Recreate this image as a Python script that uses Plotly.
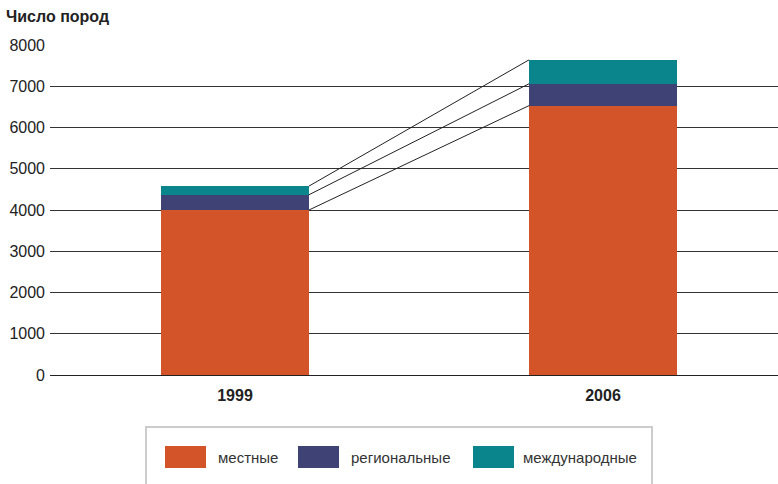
import plotly.graph_objects as go

years = ["1999", "2006"]
series_names = ["местные", "региональные", "международные"]
local_vals = [4000, 6530]
regional_vals = [370, 530]
intl_vals = [210, 580]
colors = ["#d35429", "#3f4275", "#0b858c"]
y_ticks = [0, 1000, 2000, 3000, 4000, 5000, 6000, 7000, 8000]
title_text = "Число пород"

FONT = "Liberation Sans, Arial, sans-serif"
bar_w = 0.402
xs = list(range(len(years)))

fig = go.Figure()
series = [local_vals, regional_vals, intl_vals]
for name, vals, col in zip(series_names, series, colors):
    fig.add_trace(go.Bar(x=xs, y=vals, name=name, marker=dict(color=col, line=dict(width=0)),
                         width=bar_w, showlegend=False, hoverinfo="y+name"))

# connecting lines between cumulative tops
cum = [0, 0]
for vals in series:
    cum = [c + v for c, v in zip(cum, vals)]
    fig.add_trace(go.Scatter(x=[xs[0] + bar_w / 2, xs[1] - bar_w / 2], y=cum, mode="lines",
                             line=dict(color="#222222", width=1), showlegend=False, hoverinfo="skip"))

fig.update_layout(
    barmode="stack",
    width=778, height=484,
    margin=dict(l=50, r=0, t=45, b=109),
    paper_bgcolor="white", plot_bgcolor="white",
    font=dict(family=FONT, color="#222222"),
    title=dict(text=title_text, xref="container", yref="container", x=6 / 778, xanchor="left",
               y=1 - 16.5 / 484, yanchor="middle", font=dict(size=16, weight="bold", color="#222222")),
    xaxis=dict(range=[-0.5027, 1.4755], tickvals=xs, ticktext=years, showgrid=False, zeroline=False,
               showline=False, ticks="", ticklabelstandoff=9,
               tickfont=dict(size=16, weight="bold", color="#222222")),
    yaxis=dict(range=[0, 8000], tickvals=y_ticks, showgrid=True, gridcolor="#333333", gridwidth=1,
               zeroline=True, zerolinecolor="#222222", zerolinewidth=1, showline=False, ticks="",
               ticklabelstandoff=4, tickfont=dict(size=16, color="#222222")),
    showlegend=False,
)

# legend box (drawn)
shapes = [dict(type="rect", xref="paper", yref="paper", x0=(146 - 50) / 728, x1=(652 - 50) / 728,
               y0=-(500 - 375) / 330, y1=-(427 - 375) / 330,
               line=dict(color="#cccccc", width=2), fillcolor="rgba(0,0,0,0)")]
leg_rect_x = [165, 298, 473]
leg_text_x = [216, 349, 521]
annotations = []
for name, col, rx, tx in zip(series_names, colors, leg_rect_x, leg_text_x):
    shapes.append(dict(type="rect", xref="paper", yref="paper",
                       x0=(rx - 50) / 728, x1=(rx + 41 - 50) / 728,
                       y0=-(468 - 375) / 330, y1=-(446 - 375) / 330,
                       line=dict(width=0), fillcolor=col))
    annotations.append(dict(text=name, xref="paper", yref="paper", x=(tx - 50) / 728, y=-(457 - 375) / 330,
                            xanchor="left", yanchor="middle", showarrow=False,
                            font=dict(size=15, color="#333333", family=FONT)))
fig.update_layout(shapes=shapes, annotations=annotations)

fig.write_html("out.html", config={"displayModeBar": False},
               post_script="document.body.style.margin='0';")
